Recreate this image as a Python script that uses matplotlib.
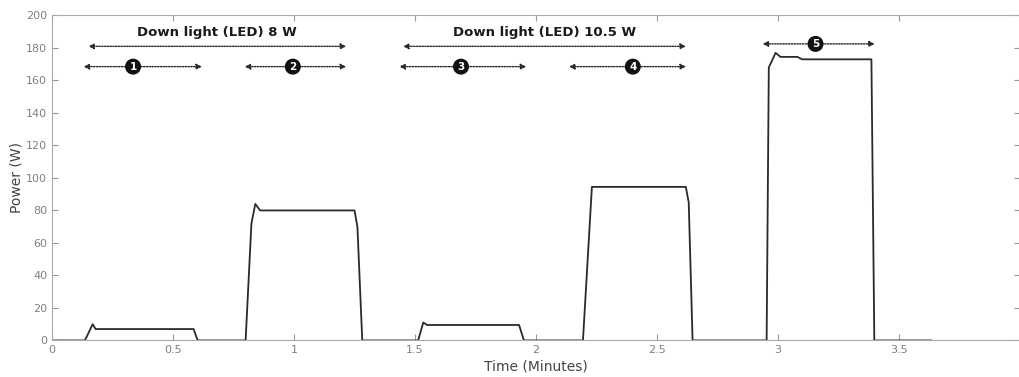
import numpy as np
import matplotlib.pyplot as plt

# measured power trace (breakpoints), time in minutes, power in W
t = [0.0, 0.136, 0.168, 0.180, 0.585, 0.602,
     0.800, 0.824, 0.840, 0.860, 1.250, 1.262, 1.282,
     1.513, 1.534, 1.550, 1.930, 1.950,
     2.194, 2.231, 2.619, 2.631, 2.647,
     2.953, 2.962, 2.990, 3.010, 3.080, 3.100, 3.386, 3.398, 3.633]
p = [0.0, 0.0, 10.0, 7.0, 7.0, 0.0,
     0.0, 72.0, 84.0, 80.0, 80.0, 70.0, 0.0,
     0.0, 11.0, 9.5, 9.5, 0.0,
     0.0, 94.5, 94.5, 85.0, 0.0,
     0.0, 168.0, 177.0, 174.5, 174.5, 173.0, 173.0, 0.0, 0.0]

# annotation spans: (start, end, y, label)
group_spans = [(0.15, 1.216, 181, 'Down light (LED) 8 W'),
               (1.45, 2.62, 181, 'Down light (LED) 10.5 W')]
step_starts = [0.13, 0.796, 1.435, 2.136, 2.936]
step_ends = [0.62, 1.216, 1.96, 2.62, 3.40]
step_y = [168.5, 168.5, 168.5, 168.5, 182.5]
step_mid = [0.335, 0.995, 1.69, 2.40, 3.155]
step_labels = ['1', '2', '3', '4', '5']

fig = plt.figure(figsize=(10.2, 3.77), dpi=100)
ax = fig.add_axes([0.051, 0.097, 0.949, 0.862])

ax.plot(t, p, color='#2a2a2a', lw=1.3)


def span_arrow(x0, x1, y):
    ax.annotate('', xy=(x0, y), xytext=(x1, y),
                arrowprops=dict(arrowstyle='<|-|>', color='#2a2a2a', lw=1.0,
                                linestyle=(0, (1, 1)), mutation_scale=8,
                                shrinkA=0, shrinkB=0))


for x0, x1, y, lab in group_spans:
    span_arrow(x0, x1, y)
    ax.text((x0 + x1) / 2, y + 4.5, lab, ha='center', va='bottom',
            fontsize=9.5, fontweight='bold', color='#1a1a1a')

for x0, x1, y, mid, lab in zip(step_starts, step_ends, step_y, step_mid, step_labels):
    span_arrow(x0, x1, y)
    ax.text(mid, y, lab, ha='center', va='center', fontsize=7.5,
            fontweight='bold', color='white',
            bbox=dict(boxstyle='circle,pad=0.22', fc='#111111', ec='#111111'))

ax.set_xlim(0, 4)
ax.set_ylim(0, 200)
ax.set_xticks([0, 0.5, 1, 1.5, 2, 2.5, 3, 3.5])
ax.set_xticklabels(['0', '0.5', '1', '1.5', '2', '2.5', '3', '3.5'])
ax.set_yticks(np.arange(0, 201, 20))

ax.tick_params(direction='in', top=True, right=True, length=4, width=0.8,
               color='#999999', labelcolor='#808080', labelsize=8)
for side in ['left', 'bottom', 'top', 'right']:
    ax.spines[side].set_color('#aaaaaa')
    ax.spines[side].set_linewidth(0.8)

ax.set_xlabel('Time (Minutes)', fontsize=10, color='#444444', labelpad=3)
ax.set_ylabel('Power (W)', fontsize=10, color='#444444', labelpad=2)

fig.savefig('out.png', dpi=100)
